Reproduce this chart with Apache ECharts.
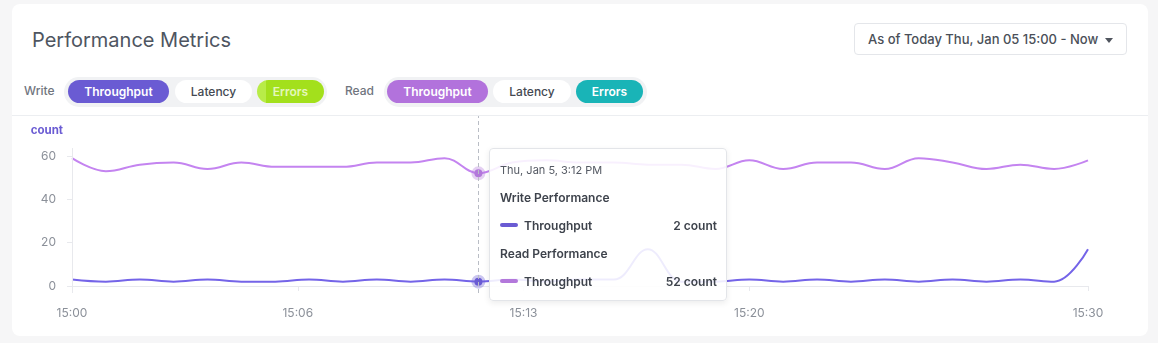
<!DOCTYPE html>
<html>
<head>
<meta charset="utf-8">
<title>Performance Metrics</title>
<style>
  body { margin: 0; width: 1158px; height: 343px; background: #f6f6f7; font-family: Inter, "Noto Sans", sans-serif; position: relative; overflow: hidden; }
  .card { position: absolute; left: 12px; top: 4px; width: 1136px; height: 332px; background: #fff; border-radius: 8px; }
  .divider { position: absolute; left: 12px; top: 115px; width: 1136px; height: 1px; background: #eceef1; }
  .title { position: absolute; left: 32px; top: 28px; font-size: 20px; line-height: 24px; color: #4e5561; }
  .range { position: absolute; left: 854px; top: 23px; height: 30px; border: 1px solid #e4e6ea; border-radius: 4px;
           font-size: 13px; font-weight: 500; line-height: 30px; color: #4a4f58; padding-left: 13px; width: 258px; }
  .range:after { content: ""; position: absolute; right: 13px; top: 14px; border-left: 4px solid transparent; border-right: 4px solid transparent; border-top: 5px solid #50555e; }
  .lbl { position: absolute; top: 83px; font-size: 12px; font-weight: 500; line-height: 16px; color: #70757e; }
  .group { position: absolute; top: 77px; height: 30px; width: 263px; background: #f1f2f4; border-radius: 15px; }
  .pill { position: absolute; top: 80px; height: 23px; line-height: 23px; border-radius: 12px; text-align: center; font-size: 12px; font-weight: 600; color: #fff; }
  .off { background: #fff; color: #444952; font-weight: 500; }
  #container { position: absolute; left: 0; top: 0; width: 1158px; height: 343px; }
</style>
</head>
<body>
<div class="card"></div>
<div class="divider"></div>
<div class="title">Performance Metrics</div>
<div class="range">As of Today Thu, Jan 05 15:00 - Now</div>

<div class="lbl" style="left:24px">Write</div>
<div class="group" style="left:64px"></div>
<div class="pill" style="left:68px;width:101px;background:#6a5bd3">Throughput</div>
<div class="pill off" style="left:175px;width:77px">Latency</div>
<div class="pill" style="left:257px;width:67px;background:linear-gradient(90deg,#b8ec48 0,#b8ec48 9px,#a3e01c 9px);color:#e4f7bd">Errors</div>

<div class="lbl" style="left:345px">Read</div>
<div class="group" style="left:384px"></div>
<div class="pill" style="left:387px;width:101px;background:#b272dc">Throughput</div>
<div class="pill off" style="left:493px;width:78px">Latency</div>
<div class="pill" style="left:576px;width:67px;background:#19b4b7">Errors</div>

<div id="container"></div>

<script src="https://cdn.jsdelivr.net/npm/echarts@6.0.0/dist/echarts.min.js"></script>
<script>
var times = ['15:00','15:01','15:02','15:03','15:04','15:05','15:06','15:07','15:08','15:09',
             '15:10','15:11','15:12','15:13','15:14','15:15','15:16','15:17','15:18','15:19',
             '15:20','15:21','15:22','15:23','15:24','15:25','15:26','15:27','15:28','15:29','15:30'];
var writeThroughput = [3,2,3,2,3,2,2,3,2,3, 2,3,2,3,2,3,3,17,2,2, 3,2,3,2,3,2,3,2,3,2,17];
var readThroughput = [59,53,56,57,54,57,55,55,55,57, 57,59,52,57,58,57,57,56,56,54, 58,54,57,57,54,59,57,54,56,54,58];
var xTickMinutes = [0, 20 / 3, 40 / 3, 20, 30];
var yTicks = [0, 20, 40, 60];
var dateLabel = 'Thu, Jan 5';

var writeColor = '#6a5bd3';
var readColor = '#b378db';

function points(values) {
    return values.map(function (v, i) { return [i, v]; });
}
function clock(min) {
    var m = Math.floor(min + 1e-6);
    return '15:' + (m < 10 ? '0' + m : m);
}
function pm(t) {
    var p = t.split(':');
    var h = +p[0];
    return (h > 12 ? h - 12 : h) + ':' + p[1] + (h >= 12 ? ' PM' : ' AM');
}

var dom = document.getElementById('container');
var myChart = echarts.init(dom);

var rowCss = 'height:28px;display:flex;align-items:center;';
function row(color, name, value) {
    return '<div style="' + rowCss + 'font-size:12px;font-weight:600;color:#3e434c">' +
        '<span style="display:inline-block;width:18px;height:4px;border-radius:2px;background:' + color + ';margin-right:6px"></span>' +
        '<span style="flex:1">' + name + '</span><span>' + value + ' count</span></div>';
}

var option = {
    animation: false,
    textStyle: { fontFamily: 'Inter' },
    grid: { left: 72, right: 70, top: 116, bottom: 50 },
    tooltip: {
        trigger: 'axis',
        position: [489, 148],
        padding: 0,
        backgroundColor: 'rgba(255,255,255,0.88)',
        borderColor: '#e3e5e9',
        borderWidth: 1,
        transitionDuration: 0,
        extraCssText: 'box-shadow:0 2px 6px rgba(0,0,0,0.08);border-radius:4px;',
        axisPointer: {
            type: 'line',
            lineStyle: { color: '#b9bdc5', width: 1, type: [4, 3] }
        },
        formatter: function (params) {
            var idx = params[0].dataIndex;
            var html = '<div style="width:217px;padding:9px 9px 5px 10px;font-family:Inter">';
            html += '<div style="height:25px;display:flex;align-items:center;font-size:11px;color:#545963">' + dateLabel + ', ' + pm(times[idx]) + '</div>';
            html += '<div style="' + rowCss + 'font-size:12px;font-weight:600;color:#3e434c">Write Performance</div>';
            html += row(writeColor, 'Throughput', writeThroughput[idx]);
            html += '<div style="' + rowCss + 'font-size:12px;font-weight:600;color:#3e434c">Read Performance</div>';
            html += row(readColor, 'Throughput', readThroughput[idx]);
            return html + '</div>';
        }
    },
    xAxis: {
        type: 'value',
        min: 0,
        max: times.length - 1,
        splitLine: { show: false },
        axisLine: { lineStyle: { color: '#e8e9ed' } },
        axisTick: { show: true, length: 5, customValues: xTickMinutes, lineStyle: { color: '#e8e9ed' } },
        axisLabel: {
            customValues: xTickMinutes,
            margin: 14,
            color: '#8b9099',
            fontSize: 12,
            formatter: function (v) { return clock(v); }
        }
    },
    yAxis: {
        type: 'value',
        min: -3.23,
        max: 78.46,
        name: 'count',
        nameLocation: 'end',
        nameGap: -15,
        nameTextStyle: { color: '#6a5bd3', fontWeight: 'bold', fontSize: 11.5, align: 'right', verticalAlign: 'middle', padding: [0, 9, 0, 0] },
        splitLine: { show: false },
        axisLine: { show: false },
        axisTick: { show: true, length: 5, customValues: yTicks, lineStyle: { color: '#e8e9ed' } },
        axisLabel: { customValues: yTicks, margin: 16, color: '#8b9099', fontSize: 12 }
    },
    series: [
        {
            name: 'Write Throughput',
            type: 'line',
            smooth: 0.4,
            showSymbol: false,
            symbol: 'circle',
            symbolSize: 8,
            lineStyle: { width: 2, color: writeColor },
            itemStyle: { color: writeColor },
            emphasis: { scale: false, itemStyle: { color: writeColor, borderColor: 'rgba(106,91,211,0.35)', borderWidth: 6 } },
            data: points(writeThroughput),
            markLine: {
                silent: true,
                symbol: 'none',
                label: { show: false },
                lineStyle: { color: '#e8e9ed', type: 'solid', width: 1 },
                emphasis: { disabled: true },
                data: [[{ coord: [0, -3.23] }, { coord: [0, 63.7] }]]
            }
        },
        {
            name: 'Read Throughput',
            type: 'line',
            smooth: 0.4,
            showSymbol: false,
            symbol: 'circle',
            symbolSize: 8,
            lineStyle: { width: 2, color: readColor },
            itemStyle: { color: readColor },
            emphasis: { scale: false, itemStyle: { color: readColor, borderColor: 'rgba(179,120,219,0.35)', borderWidth: 6 } },
            data: points(readThroughput)
        }
    ]
};

myChart.setOption(option);
myChart.dispatchAction({ type: 'showTip', seriesIndex: 0, dataIndex: 12 });

window.onresize = function () {
    myChart.resize();
};
</script>
</body>
</html>
